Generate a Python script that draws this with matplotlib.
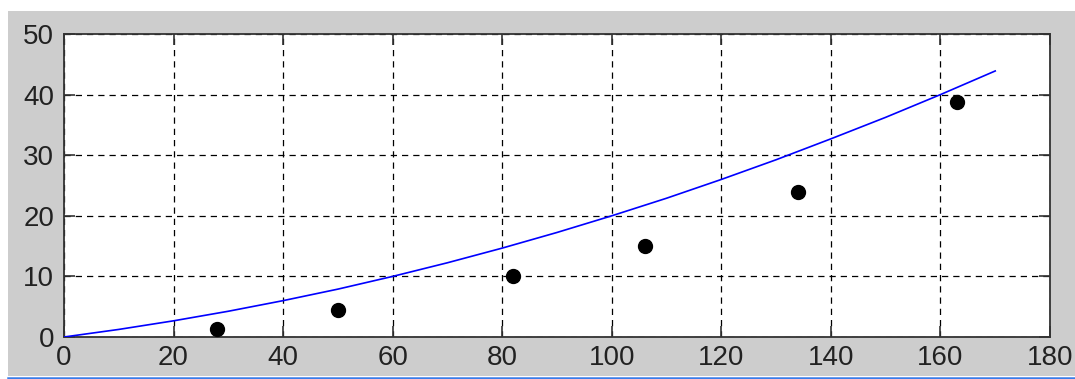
import matplotlib
matplotlib.use("Agg")
import matplotlib.pyplot as plt
from matplotlib.patches import Rectangle
from matplotlib.lines import Line2D

# Measured points
x_meas = [28, 50, 82, 106, 134, 163]
y_meas = [1.3, 4.5, 10.0, 15.0, 24.0, 38.7]

# Model curve sampled along x
x_model = [0, 10, 20, 30, 40, 50, 60, 70, 80, 90, 100, 110, 120, 130, 140, 150, 160, 170]
y_model = [0.0, 1.25, 2.67, 4.25, 6.0, 7.9, 10.0, 12.25, 14.67, 17.25, 20.0,
           22.9, 26.0, 29.25, 32.7, 36.25, 40.0, 43.9]

x_ticks = [0, 20, 40, 60, 80, 100, 120, 140, 160, 180]
y_ticks = [0, 10, 20, 30, 40, 50]

plt.rcParams['font.family'] = ['Liberation Sans', 'DejaVu Sans']

W, H = 1075, 379
fig = plt.figure(figsize=(W / 100, H / 100), dpi=100, facecolor='white')

# grey window panel and bottom accent stripe
fig.patches.append(Rectangle((8 / W, 3 / H), 1 - 8 / W, (376 - 11) / H,
                             transform=fig.transFigure, facecolor='#cdcdcd',
                             edgecolor='none', zorder=-10))
fig.lines.append(Line2D([8 / W, 1], [1.2 / H, 1.2 / H], transform=fig.transFigure,
                        color='#3a7ce8', linewidth=1.8, zorder=-10))

ax = fig.add_axes([64 / W, (H - 337) / H, (1050 - 64) / W, (337 - 34) / H])
ax.set_facecolor('white')

ax.plot(x_model, y_model, color='#0000ff', linewidth=1.2, zorder=3)
ax.plot(x_meas, y_meas, 'o', color='black', markersize=10, zorder=4)

ax.set_xlim(0, 180)
ax.set_ylim(0, 50)
ax.set_xticks(x_ticks)
ax.set_yticks(y_ticks)

ax.grid(True, color='black', linestyle=(0, (5, 4)), linewidth=0.9)
ax.tick_params(direction='in', length=8, width=1.2, color='#333333',
               top=True, right=True, labelsize=20, labelcolor='#222222')
ax.tick_params(axis='y', pad=7)
ax.tick_params(axis='x', pad=6)

for s in ax.spines.values():
    s.set_color('#333333')
    s.set_linewidth(1.3)

fig.savefig('out.png', dpi=100, facecolor='white')
